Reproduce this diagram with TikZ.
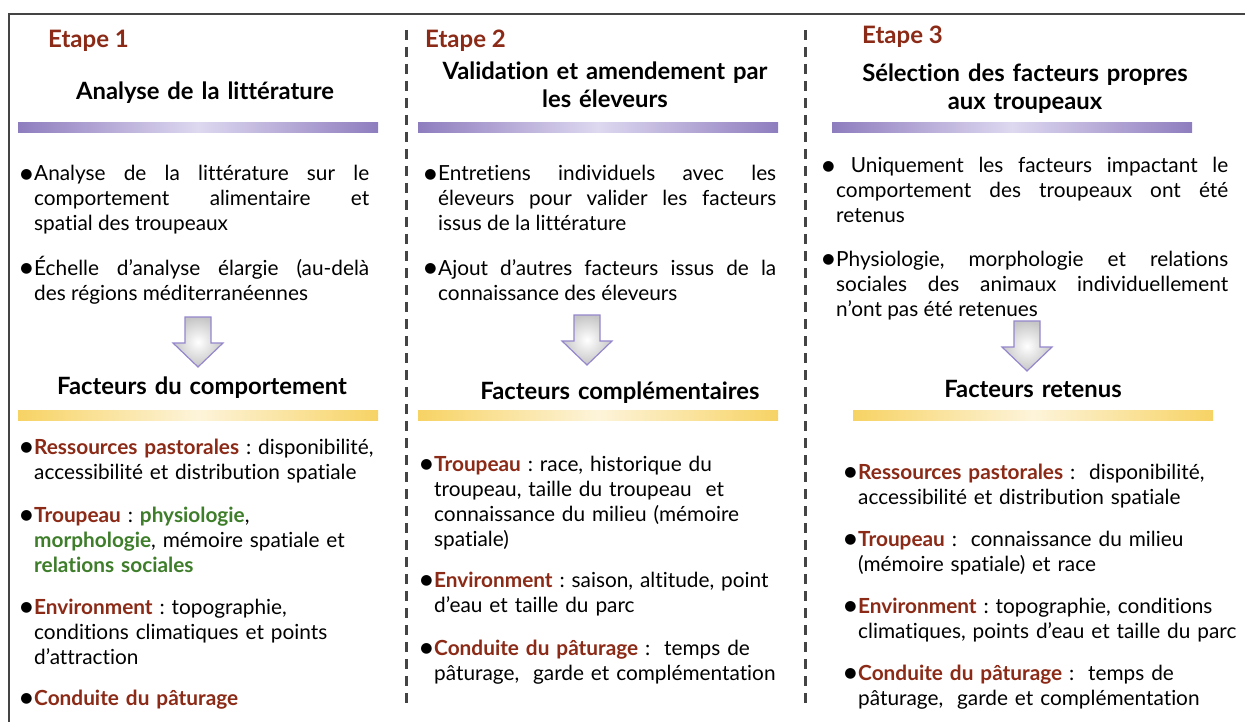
\documentclass[tikz,border=0pt]{standalone}
\usepackage{fontspec}
\setmainfont{Lato}[Ligatures=NoCommon]
\newfontfamily\dejavu{DejaVu Sans}
\definecolor{ered}{RGB}{139,42,22}
\definecolor{egreen}{RGB}{62,125,42}
\definecolor{pdark}{RGB}{142,125,190}
\definecolor{plight}{RGB}{222,216,240}
\definecolor{ydark}{RGB}{247,211,100}
\definecolor{ylight}{RGB}{253,244,218}
\definecolor{arrowedge}{RGB}{150,135,205}
\definecolor{framegray}{RGB}{68,68,68}
\newcommand\bul{\llap{\raisebox{2.5pt}{\dejavu\fontsize{14}{14}\selectfont ●}\kern1.5pt}}
\newcommand\kw[1]{\textcolor{ered}{\bfseries #1}}
\newcommand\gw[1]{\textcolor{egreen}{\bfseries #1}}
\frenchspacing
\tikzset{
  body/.style={anchor=base west, inner sep=0pt, font=\fontsize{20.8}{25}\selectfont\frenchspacing, text=black},
  just/.style={body, align=justify},
  rag/.style={body, align=left},
  titlebox/.style={anchor=base, inner sep=0pt, text width=420pt, align=center, font=\bfseries\fontsize{23.8}{28}\selectfont},
  etape/.style={anchor=base west, inner sep=0pt, font=\bfseries\fontsize{24}{28}\selectfont, text=ered},
  pbar/.style={left color=pdark, right color=pdark, middle color=plight},
  ybar/.style={left color=ydark, right color=ydark, middle color=ylight},
  sep/.style={framegray, line width=3pt, dash pattern=on 10pt off 7pt},
  darrow/.pic={\shadedraw[inner color=white, outer color=gray!45, draw=arrowedge, line width=1.2pt]
     (-13,0) -- (13,0) -- (13,26) -- (25,26) -- (0,50) -- (-25,26) -- (-13,26) -- cycle;},
}
\begin{document}
\begin{tikzpicture}[x=1pt,y=-1pt]
\useasboundingbox[fill=white] (0,0) rectangle (1245,722);
% frame and separators
\draw[framegray, line width=2.5pt] (9,722) -- (9,14) -- (1245,14);
\draw[sep] (406,30) -- (406,708);
\draw[sep] (805,30) -- (805,708);

% ---------- column 1 ----------
\node[etape] (e1) at (48,48) {Etape 1};
\node[titlebox] (t1) at (205,100) {Analyse de la littérature};
\shade[pbar] (18,123) rectangle (378,133);
\node[just, text width=335pt] (a1) at (34,181) {\bul Analyse de la littérature sur le\linebreak comportement alimentaire et\linebreak spatial des troupeaux};
\node[just, text width=335pt] (a2) at (34,275) {\bul Échelle d’analyse élargie (au-delà\linebreak des régions méditerranéennes};
\pic at (198,317) {darrow};
\node[titlebox] (f1) at (202,394) {Facteurs du comportement};
\shade[ybar] (18,410) rectangle (378,420);
\node[rag, text width=360pt] (b1) at (34,454) {\bul\kw{Ressources pastorales} : disponibilité,\newline accessibilité et distribution spatiale};
\node[rag, text width=360pt] (b2) at (34,522) {\bul\kw{Troupeau} : \gw{physiologie},\newline \gw{morphologie}, mémoire spatiale et\newline \gw{relations sociales}};
\node[rag, text width=360pt] (b3) at (34,614) {\bul\kw{Environment} : topographie,\newline conditions climatiques et points\newline d’attraction};
\node[rag, text width=360pt] (b4) at (34,705) {\bul\kw{Conduite du pâturage}};

% ---------- column 2 ----------
\node[etape] (e2) at (425,48) {Etape 2};
\node[titlebox] (t2) at (605,80) {Validation et amendement par\\les éleveurs};
\shade[pbar] (418,123) rectangle (778,133);
\node[just, text width=338pt] (c1) at (438,181) {\bul Entretiens individuels avec les\linebreak éleveurs pour valider les facteurs\linebreak issus de la littérature};
\node[just, text width=338pt] (c2) at (438,275) {\bul Ajout d’autres facteurs issus de la\linebreak connaissance des éleveurs};
\pic at (587,315) {darrow};
\node[titlebox] (f2) at (620,399) {Facteurs complémentaires};
\shade[ybar] (418,410) rectangle (778,420);
\node[rag, text width=365pt] (d1) at (434,471) {\bul\kw{Troupeau} : race, historique du\newline troupeau, taille du troupeau\ \ et\newline connaissance du milieu (mémoire\newline spatiale)};
\node[rag, text width=365pt] (d2) at (434,587) {\bul\kw{Environment} : saison, altitude, point\newline d’eau et taille du parc};
\node[rag, text width=365pt] (d3) at (434,655) {\bul\kw{Conduite du pâturage} :\ \ temps de\newline pâturage,\ \ garde et complémentation};

% ---------- column 3 ----------
\node[etape] (e3) at (862,44) {Etape 3};
\node[titlebox] (t3) at (1025,82) {Sélection des facteurs propres\\aux troupeaux};
\shade[pbar] (832,123) rectangle (1192,133);
\node[just, text width=392pt] (g1) at (836,173) {\bul\ Uniquement les facteurs impactant le\linebreak comportement des troupeaux ont été\linebreak retenus};
\node[just, text width=392pt] (g2) at (836,266) {\bul Physiologie, morphologie et relations\linebreak sociales des animaux individuellement\linebreak n’ont pas été retenues};
\pic at (1027,321) {darrow};
\node[titlebox] (f3) at (1033,397) {Facteurs retenus};
\shade[ybar] (853,410) rectangle (1213,420);
\node[rag, text width=385pt] (h1) at (858,479) {\bul\kw{Ressources pastorales} :\ \ disponibilité,\newline accessibilité et distribution spatiale};
\node[rag, text width=385pt] (h2) at (858,546) {\bul\kw{Troupeau} :\ \ connaissance du milieu\newline (mémoire spatiale) et race};
\node[rag, text width=385pt] (h3) at (858,613) {\bul\kw{Environment} : topographie, conditions\newline climatiques, points d’eau et taille du parc};
\node[rag, text width=385pt] (h4) at (858,680) {\bul\kw{Conduite du pâturage} :\ \ temps de\newline pâturage,\ \ garde et complémentation};
\end{tikzpicture}
\end{document}
